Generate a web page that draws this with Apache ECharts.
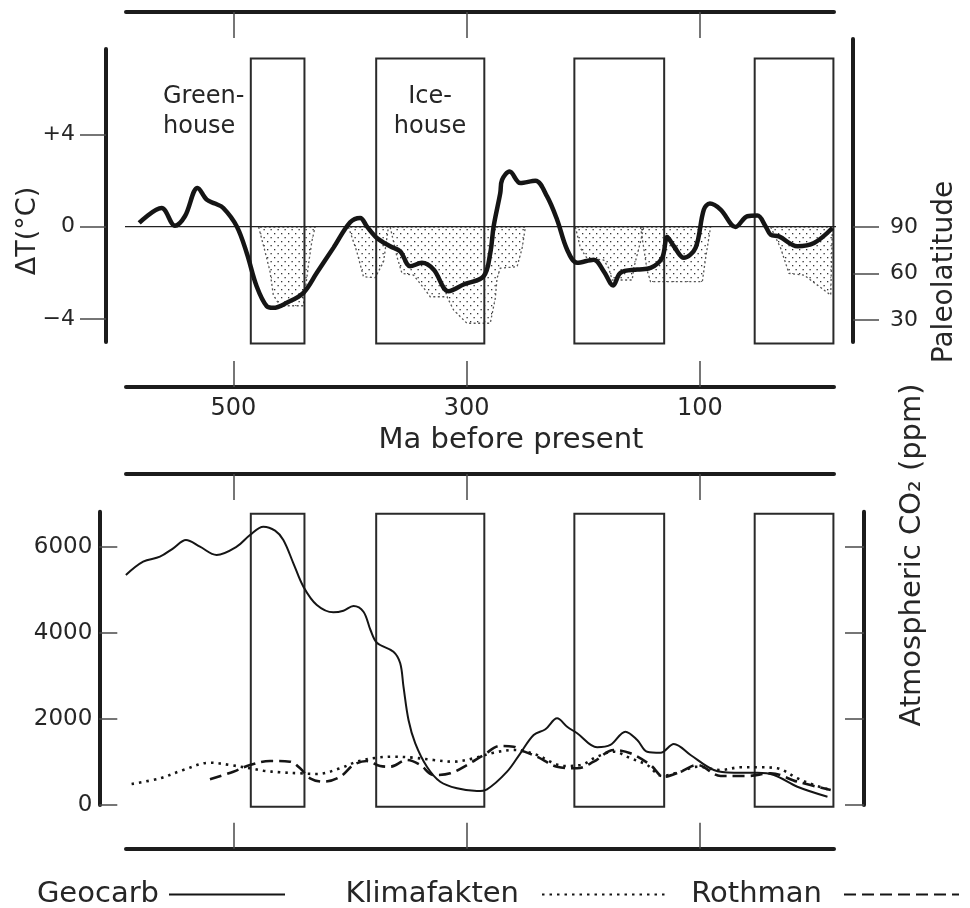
<!DOCTYPE html>
<html><head><meta charset="utf-8">
<script src="https://cdn.jsdelivr.net/npm/echarts@6/dist/echarts.min.js"></script>
<style>html,body{margin:0;padding:0;background:#fff}#c{width:970px;height:908px}</style>
</head><body><div id="c"></div>
<script>
// ---------- DATA ----------
const xTicks = [500, 300, 100];
const tempTicks = [-4, 0, 4];
const latTicks = [30, 60, 90];
const co2Ticks = [0, 2000, 4000, 6000];

// glacial (icehouse) intervals, Ma
const glacialStart = [485, 377.5, 207.6, 53];
const glacialEnd = [439, 284.8, 130.6, -14.5];

// Temperature anomaly curve
const tempAge = [580.7, 561.5, 550, 541.5, 530.6, 522.8, 515.7, 508.6, 497, 488.5, 480, 471.3, 465.7, 454.2, 439.9, 428.4, 414.2, 399.8, 391.2, 385.5, 376.9, 365.5, 356.9, 348.3, 338.3, 328.3, 315.5, 302.6, 285.4, 279.7, 276.8, 271.1, 269.6, 263.1, 253.9, 241, 231, 222.4, 213.8, 205.2, 191, 182.4, 174.3, 168.1, 153.7, 142.3, 132.3, 128, 122.3, 113.7, 103.7, 96.6, 91.4, 82.2, 69.4, 59.3, 50.7, 43.6, 39.3, 32.2, 16.4, 2.1, -13.6];
const tempDelta = [0.16, 0.81, 0.04, 0.45, 1.68, 1.17, 1.0, 0.81, 0.01, -1.14, -2.58, -3.45, -3.52, -3.30, -2.87, -2.0, -0.92, 0.19, 0.38, 0.01, -0.49, -0.85, -1.07, -1.72, -1.57, -1.86, -2.80, -2.51, -2.15, -1.14, 0.01, 1.46, 2.03, 2.39, 1.89, 1.99, 1.31, 0.30, -1.00, -1.57, -1.43, -1.94, -2.55, -2.0, -1.86, -1.79, -1.35, -0.45, -0.85, -1.35, -0.92, 0.74, 1.0, 0.74, -0.01, 0.45, 0.48, 0.01, -0.35, -0.42, -0.85, -0.71, -0.06];

// Paleolatitude of glaciation (Ma, degrees) polygons
const iceA = [[478.3,90],[472.8,74.1],[468.5,61.2],[465.7,46.1],[460,39.2],[440,39.2],[438.5,48.3],[435.6,65.5],[432.7,80.5],[429.9,90]];
const iceB = [[401.3,90],[394.1,74.1],[388.4,57.9],[378.4,57.3],[371.2,67.6],[367,90]];
const iceC = [[365.5,90],[359.7,70.8],[355.4,60.1],[345.5,59],[335.5,49.4],[331.2,45],[316.8,45],[311.2,36.5],[299.7,27.9],[279.7,27.9],[275.4,44],[273.9,56.9],[271.1,63.4],[256.7,64.4],[252.4,76.3],[249.6,90]];
const iceD1 = [[206.7,90],[202.4,76.3],[196.7,69.8],[182.4,68.7],[178.1,63.4],[175.2,55.8],[158,55.8],[156.7,63.4],[150.9,80.5],[148.1,90]];
const iceD2 = [[150.9,90],[145.2,62],[142.3,54.7],[97.9,54.7],[95.1,69.8],[90.8,90]];
const iceE = [[39.3,90],[30.7,76.3],[23.6,60.1],[10.7,59],[-0.8,52.5],[-12.2,46.1],[-13.6,90]];
const icePolys = [iceA, iceB, iceC, iceD1, iceD2, iceE];

// Atmospheric CO2 (ppm)
const geocarbAge = [592.1, 577.3, 562.9, 551.5, 540.6, 528.6, 514.3, 497.1, 485.7, 474.2, 464.2, 457.1, 448.5, 439.9, 428.4, 414.2, 405.6, 397, 388.4, 382.4, 376.9, 362.7, 356.9, 354.1, 349.8, 344, 334, 322.6, 308.2, 291.1, 282.5, 265.3, 253.9, 242.5, 232.4, 222.4, 213.8, 205.2, 188.1, 176.7, 163.8, 153.7, 145.2, 133.7, 122.3, 108, 88, 70.8, 50.7, 36.5, 16.4, -9.4];
const geocarbCO2 = [5343, 5652, 5768, 5963, 6156, 6000, 5808, 6000, 6272, 6465, 6372, 6156, 5615, 5071, 4646, 4476, 4514, 4623, 4490, 4065, 3770, 3561, 3292, 2748, 1975, 1433, 890, 541, 388, 325, 365, 774, 1201, 1626, 1759, 2014, 1819, 1666, 1340, 1394, 1703, 1510, 1238, 1215, 1417, 1162, 813, 750, 750, 697, 425, 193];
const klimaAge = [587.2, 562.9, 542.9, 520, 502.9, 485.7, 474.2, 459.9, 442.7, 428.4, 408.4, 394.1, 376.9, 362.7, 345.5, 328.3, 311.2, 294, 276.8, 259.7, 239.6, 228.2, 216.7, 202.4, 188.1, 173.8, 159.5, 145.2, 132.3, 116.6, 102.2, 82.2, 65.1, 47.9, 33.6, 16.4, 2.1, -12.2];
const klimaCO2 = [488, 620, 813, 983, 929, 853, 797, 760, 736, 720, 853, 1006, 1099, 1122, 1099, 1045, 1006, 1085, 1215, 1278, 1162, 1006, 906, 929, 1122, 1238, 1085, 929, 674, 774, 890, 813, 876, 876, 853, 620, 465, 348];
const rothAge = [520, 500, 485.7, 468.5, 451.3, 442.7, 434.2, 422.7, 408.4, 397, 385.5, 374.1, 365.5, 351.2, 339.7, 328.3, 314, 299.7, 285.4, 271.1, 259.7, 253.9, 239.6, 222.4, 205.2, 191, 173.8, 159.5, 142.3, 130.9, 116.6, 102.2, 82.2, 59.3, 39.3, 16.4, -12.2];
const rothCO2 = [597, 774, 929, 1022, 1006, 853, 620, 541, 657, 929, 1022, 906, 890, 1045, 929, 697, 736, 929, 1162, 1371, 1354, 1278, 1122, 890, 853, 1006, 1278, 1201, 929, 657, 774, 929, 674, 674, 736, 541, 348];

// ---------- STYLE ----------
const FONT = 'DejaVu Sans';
const AX = '#1c1c1c', TK = '#4a4a4a', TXT = '#262626';
const zip = (a, b) => a.map((v, i) => [v, b[i]]);

const pat = document.createElement('canvas');
pat.width = 7; pat.height = 8;
const pg = pat.getContext('2d');
pg.fillStyle = '#333';
pg.fillRect(1, 1, 1.3, 1.3);
pg.fillRect(4.5, 5, 1.3, 1.3);

function xAx(gridIndex, position, offset, labels, show) {
  return {
    type: 'value', gridIndex, position, offset, min: -15, max: 592, inverse: true, show: show !== false,
    axisLine: { show: true, onZero: false, lineStyle: { color: AX, width: 4 } },
    axisTick: { show: true, inside: true, length: 26, customValues: xTicks, lineStyle: { color: TK, width: 1.5 } },
    axisLabel: { show: labels, customValues: xTicks, margin: 10, fontSize: 24, color: TXT, fontFamily: FONT },
    splitLine: { show: false }
  };
}
function yAx(o) {
  return {
    type: 'value', gridIndex: o.grid, position: o.pos, offset: o.offset, min: o.min, max: o.max,
    axisLine: { show: true, onZero: false, lineStyle: { color: AX, width: 4 } },
    axisTick: { show: true, inside: o.inside, length: o.tickLen, customValues: o.ticks, lineStyle: { color: TK, width: 1.5 } },
    axisLabel: { show: o.labels, customValues: o.ticks, margin: o.margin, fontSize: o.fs, color: TXT, fontFamily: FONT,
      formatter: o.fmt || (v => String(v)) },
    splitLine: { show: false }
  };
}

function boxSeries(xi, yi, range) {
  return {
    type: 'custom', xAxisIndex: xi, yAxisIndex: yi, clip: false, silent: true, z: 2,
    data: glacialStart.map((s, i) => [s, glacialEnd[i], range[1], range[0]]),
    renderItem: (params, api) => {
      const p1 = api.coord([api.value(0), api.value(2)]);
      const p2 = api.coord([api.value(1), api.value(3)]);
      return { type: 'rect', shape: { x: p1[0], y: p1[1], width: p2[0] - p1[0], height: p2[1] - p1[1] },
        style: { fill: 'none', stroke: '#2a2a2a', lineWidth: 2 } };
    }
  };
}
function lineSeries(name, data, lineStyle, xi, yi, z) {
  return { type: 'line', name, data, xAxisIndex: xi, yAxisIndex: yi, smooth: 0.35, symbol: 'none',
    showSymbol: false, clip: false, silent: true, z: z || 5, lineStyle, color: '#151515', emphasis: { disabled: true } };
}
function legendFor(name, right, width, pad) {
  return { data: [name], right, top: 880, align: 'right', itemWidth: width, itemHeight: 28, padding: 0,
    selectedMode: false, orient: 'horizontal',
    itemStyle: { color: 'rgba(0,0,0,0)', borderColor: 'rgba(0,0,0,0)', borderWidth: 0, opacity: 0 },
    textStyle: { fontSize: 29, fontFamily: FONT, color: TXT, padding: [0, pad, 0, 0] } };
}
function txt(text, x, y, fs, opts) {
  opts = opts || {};
  return { type: 'text', x, y, rotation: opts.rot || 0, silent: true,
    style: { text, fontSize: fs, fontFamily: FONT, fill: TXT, align: opts.align || 'center', verticalAlign: 'middle', lineHeight: opts.lh } };
}

const chart = echarts.init(document.getElementById('c'), null, { renderer: 'canvas' });
chart.setOption({
  animation: false,
  backgroundColor: '#ffffff',
  grid: [
    { left: 126, top: 49, width: 708, height: 293, outerBoundsMode: 'none' },
    { left: 126, top: 39, width: 708, height: 303, outerBoundsMode: 'none' },
    { left: 126, top: 511.7, width: 708, height: 293.3, outerBoundsMode: 'none' }
  ],
  xAxis: [
    xAx(0, 'bottom', 45, true),
    xAx(0, 'top', 37, false),
    xAx(1, 'bottom', 0, false, false),
    xAx(2, 'bottom', 43.7, false),
    xAx(2, 'top', 37.7, false)
  ],
  yAxis: [
    yAx({ grid: 0, pos: 'left', offset: 20, min: -5, max: 7.7, inside: false, tickLen: 26, ticks: tempTicks, labels: true, margin: 31, fs: 22,
      fmt: v => v > 0 ? '+' + v : (v < 0 ? '\u2212' + Math.abs(v) : '0') }),
    yAx({ grid: 1, pos: 'right', offset: 19, min: 15.8, max: 211.3, inside: false, tickLen: 26, ticks: latTicks, labels: true, margin: 37, fs: 22 }),
    yAx({ grid: 2, pos: 'left', offset: 26.7, min: 0, max: 6813, inside: true, tickLen: 18, ticks: co2Ticks, labels: true, margin: 7, fs: 23 }),
    yAx({ grid: 2, pos: 'right', offset: 30, min: 0, max: 6813, inside: true, tickLen: 19, ticks: co2Ticks, labels: false, margin: 7, fs: 23 })
  ],
  legend: [
    legendFor('Geocarb', 684, 116, 5),
    legendFor('Klimafakten', 303, 124, 18),
    legendFor('Rothman', 10, 115, 17)
  ],
  graphic: [
    txt('Ma before present', 511, 440, 29),
    txt('\u0394T(\u00b0C)', 28, 231, 27, { rot: Math.PI / 2 }),
    txt('Paleolatitude', 945, 272, 28, { rot: Math.PI / 2 }),
    txt('Atmospheric CO\u2082 (ppm)', 912, 555, 29, { rot: Math.PI / 2 }),
    txt('Green-\nhouse', 163, 112, 24, { align: 'left', lh: 30 }),
    txt('Ice-\nhouse', 430, 112, 24, { lh: 30 })
  ],
  series: [
    boxSeries(0, 0, [-5.06, 7.29]),
    {
      type: 'custom', xAxisIndex: 2, yAxisIndex: 1, clip: false, silent: true, z: 1,
      data: icePolys.map(p => p[0]),
      renderItem: (params, api) => {
        const pts = icePolys[params.dataIndex].map(p => api.coord(p));
        return { type: 'polygon', shape: { points: pts },
          style: { fill: { image: pat, repeat: 'repeat' }, stroke: '#555', lineWidth: 1.3, lineDash: [2, 2.5] } };
      }
    },
    { type: 'line', data: [[597.3, 0], [-23.3, 0]], xAxisIndex: 0, yAxisIndex: 0, symbol: 'none', clip: false, silent: true, z: 3,
      lineStyle: { color: '#222', width: 1.3 } },
    lineSeries('DeltaT', zip(tempAge, tempDelta), { color: '#151515', width: 4.5 }, 0, 0, 6),
    boxSeries(3, 2, [-40, 6767]),
    lineSeries('Geocarb', zip(geocarbAge, geocarbCO2), { color: '#151515', width: 2 }, 3, 2),
    lineSeries('Klimafakten', zip(klimaAge, klimaCO2), { color: '#151515', width: 2.6, type: [2.5, 5] }, 3, 2),
    lineSeries('Rothman', zip(rothAge, rothCO2), { color: '#151515', width: 2.6, type: [12, 6] }, 3, 2)
  ]
});
</script></body></html>
